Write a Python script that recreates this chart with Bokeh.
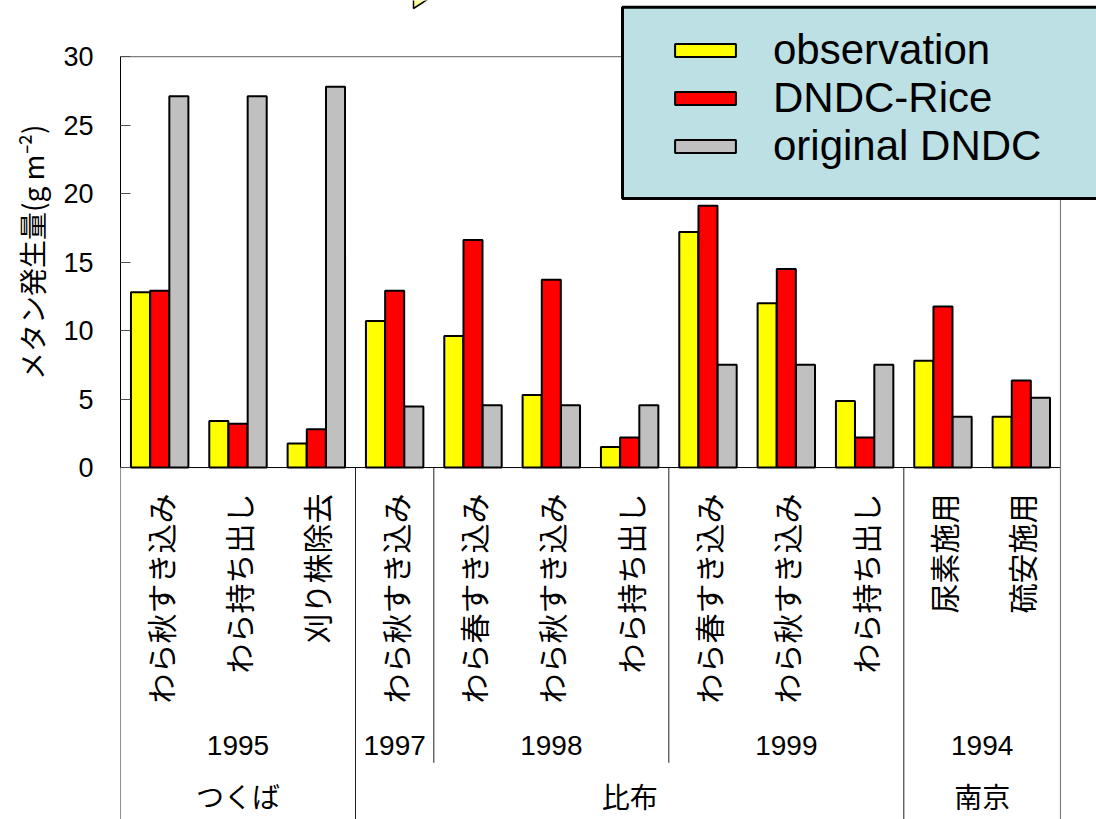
import math
from bokeh.plotting import figure
from bokeh.models import (Range1d, FixedTicker, Legend, LegendItem, Title,
                          BoxAnnotation, PolyAnnotation, ColumnDataSource)
from bokeh.transform import dodge
from bokeh.core.properties import value
from bokeh.embed import file_html
from bokeh.resources import INLINE

# ---- data ----
locations = ["つくば", "つくば", "つくば", "比布", "比布", "比布", "比布", "比布", "比布", "比布", "南京", "南京"]
years = ["1995", "1995", "1995", "1997", "1998", "1998", "1998", "1999", "1999", "1999", "1994", "1994"]
treatments = ["わら秋すき込み", "わら持ち出し", "刈り株除去", "わら秋すき込み", "わら春すき込み",
              "わら秋すき込み", "わら持ち出し", "わら春すき込み", "わら秋すき込み", "わら持ち出し",
              "尿素施用", "硫安施用"]
observation = [12.8, 3.4, 1.75, 10.7, 9.6, 5.3, 1.5, 17.2, 12.0, 4.85, 7.8, 3.7]
dndc_rice = [12.9, 3.2, 2.8, 12.9, 16.6, 13.7, 2.2, 19.1, 14.5, 2.2, 11.75, 6.35]
original_dndc = [27.1, 27.1, 27.8, 4.45, 4.55, 4.55, 4.55, 7.5, 7.5, 7.5, 3.7, 5.1]
y_ticks = [0, 5, 10, 15, 20, 25, 30]
series_names = ["observation", "DNDC-Rice", "original DNDC"]
y_label = "メタン発生量(g m⁻²)"

JP = "Noto Sans CJK JP"
LAT = "Liberation Sans"

n = len(treatments)
xs = [i + 0.5 for i in range(n)]           # category centres on the x scale
Y_TOP_DATA = max(y_ticks)
Y0 = -25.69
p = figure(width=1096, height=819, x_range=Range1d(0, n + 0.46), y_range=Range1d(Y0, 34.09),
           output_backend="svg", toolbar_location=None, x_axis_location=None,
           min_border_left=120, min_border_right=0, min_border_top=0, min_border_bottom=0)
p.xgrid.visible = False
p.ygrid.visible = False
p.outline_line_color = None
p.background_fill_color = "white"
p.border_fill_color = "white"

src = ColumnDataSource(dict(x=xs, obs=observation, rice=dndc_rice, orig=original_dndc,
                            treat=treatments))
W = 0.243
GAP = 0.245
r1 = p.vbar(x=dodge("x", -GAP), top="obs", width=W, source=src, fill_color="#FFFF00",
            line_color="black", line_width=2)
r2 = p.vbar(x=dodge("x", 0.0), top="rice", width=W, source=src, fill_color="#FF0000",
            line_color="black", line_width=2)
r3 = p.vbar(x=dodge("x", GAP), top="orig", width=W, source=src, fill_color="#C0C0C0",
            line_color="black", line_width=2)

# plot-area box: baseline, top and right edges
p.segment(x0=[0], y0=[0], x1=[n], y1=[0], line_color="black", line_width=1)
p.segment(x0=[0, n], y0=[Y_TOP_DATA, Y_TOP_DATA], x1=[n, n], y1=[Y_TOP_DATA, Y0],
          line_color="#808080", line_width=1.2)

# y axis
ya = p.yaxis[0]
ya.ticker = FixedTicker(ticks=y_ticks)
ya.bounds = (0, Y_TOP_DATA)
ya.major_tick_in = 10
ya.major_tick_out = 0
ya.minor_tick_line_color = None
ya.major_tick_line_color = "#505050"
ya.axis_line_color = "black"
ya.major_label_standoff = 27
ya.major_label_text_font = LAT
ya.major_label_text_font_size = "27px"
ya.major_label_text_color = "black"

p.add_layout(Title(text=y_label, align="right", offset=124, standoff=18,
                   text_font=JP, text_font_size="28px", text_font_style="normal",
                   text_color="black"), "left")

# category labels
p.text(x="x", y=0, text="treat", source=src, angle=math.pi / 2, text_align="right",
       text_baseline="middle", y_offset=26, text_font=value(JP), text_font_size="30px",
       text_color="black")

year_groups, year_x = [], []
for i, (lo, yr) in enumerate(zip(locations, years)):
    if (lo, yr) not in year_groups:
        year_groups.append((lo, yr))
        year_x.append([])
    year_x[year_groups.index((lo, yr))].append(xs[i])
p.text(x=[sum(v) / len(v) for v in year_x], y=[0] * len(year_groups),
       text=[g[1] for g in year_groups], y_offset=278, text_align="center",
       text_baseline="middle", text_font=value(LAT), text_font_size="28px", text_color="black")

loc_groups, loc_x = [], []
for i, lo in enumerate(locations):
    if lo not in loc_groups:
        loc_groups.append(lo)
        loc_x.append([])
    loc_x[loc_groups.index(lo)].append(xs[i])
p.text(x=[sum(v) / len(v) for v in loc_x], y=[0] * len(loc_groups), text=loc_groups,
       y_offset=328, text_align="center", text_baseline="middle",
       text_font=value(JP), text_font_size="28px", text_color="black")

# separators
loc_b = [0] + [i for i in range(1, n) if locations[i] != locations[i - 1]]
year_b = [i for i in range(1, n) if locations[i] == locations[i - 1] and years[i] != years[i - 1]]
p.segment(x0=loc_b, y0=[0] * len(loc_b), x1=loc_b, y1=[Y0] * len(loc_b),
          line_color="#202020", line_width=1)
p.segment(x0=year_b, y0=[0] * len(year_b), x1=year_b, y1=[-21.55] * len(year_b),
          line_color="#202020", line_width=1)

# legend background box
p.add_layout(BoxAnnotation(left=502, right=1000, top=812.3, bottom=621,
                           left_units="screen", right_units="screen",
                           top_units="screen", bottom_units="screen",
                           fill_color="#BCE0E4", fill_alpha=1, line_color="black",
                           line_alpha=1, line_width=3))
legend = Legend(items=[LegendItem(label=series_names[0], renderers=[r1]),
                       LegendItem(label=series_names[1], renderers=[r2]),
                       LegendItem(label=series_names[2], renderers=[r3])],
                location=(547, 649), padding=0, margin=0, spacing=-3,
                glyph_width=76, glyph_height=16, label_standoff=30,
                label_text_font=LAT, label_text_font_size="42px", label_text_color="black",
                background_fill_alpha=0, border_line_color=None)
p.add_layout(legend)

# tip of a callout arrow from the slide above the chart
p.add_layout(PolyAnnotation(xs=[293, 293, 310], ys=[822, 811, 822],
                            xs_units="screen", ys_units="screen",
                            fill_color="#FFFF99", fill_alpha=1, line_color="black",
                            line_alpha=1, line_width=1.5))

open("out.html", "w").write(file_html(p, INLINE))
